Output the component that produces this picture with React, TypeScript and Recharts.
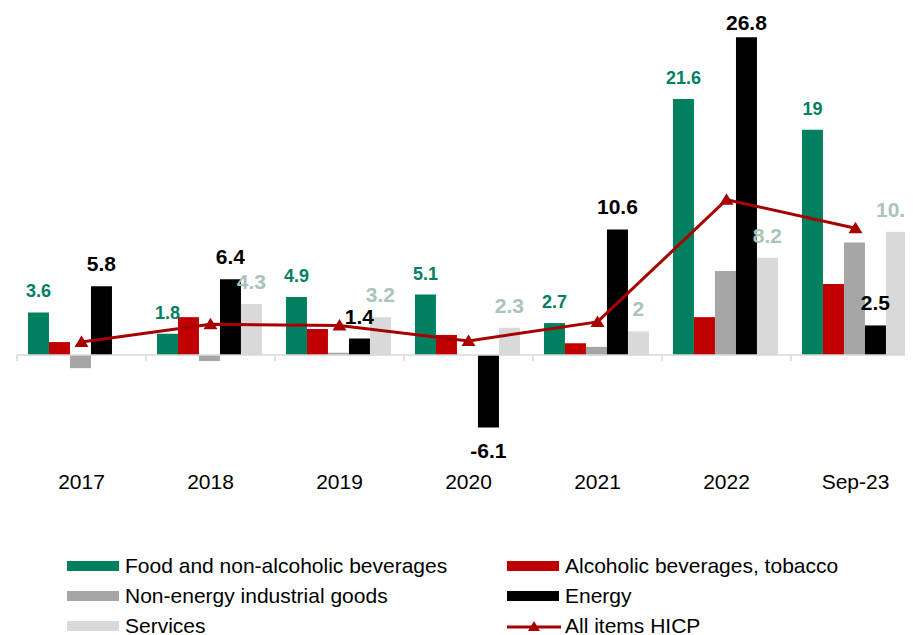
import { Bar, ComposedChart, LabelList, Line, ReferenceLine, XAxis, YAxis } from 'recharts';

const categories = ['2017', '2018', '2019', '2020', '2021', '2022', 'Sep-23'];
const food = [3.6, 1.8, 4.9, 5.1, 2.7, 21.6, 19];
const alcohol = [1.1, 3.2, 2.2, 1.7, 1.0, 3.2, 6.0];
const nonEnergy = [-1.1, -0.5, 0.2, 0, 0.7, 7.1, 9.5];
const energy = [5.8, 6.4, 1.4, -6.1, 10.6, 26.8, 2.5];
const services = [0, 4.3, 3.2, 2.3, 2, 8.2, 10.4];
const hicp = [1.1, 2.6, 2.5, 1.2, 2.8, 13.1, 10.7];

const seriesNames = {
  food: 'Food and non-alcoholic beverages',
  alcohol: 'Alcoholic beverages, tobacco',
  nonEnergy: 'Non-energy industrial goods',
  energy: 'Energy',
  services: 'Services',
  hicp: 'All items HICP',
};

const COLORS = {
  food: '#00805F',
  alcohol: '#C00000',
  nonEnergy: '#A6A6A6',
  energy: '#000000',
  services: '#D9D9D9',
  hicp: '#A80000',
};

const FONT = '"Liberation Sans", Arial, sans-serif';

const data = categories.map((cat, i) => ({
  cat,
  food: food[i],
  alcohol: alcohol[i],
  nonEnergy: nonEnergy[i],
  energy: energy[i],
  services: services[i],
  hicp: hicp[i],
}));

const makeLabel = (color: string, size: number) => (props: any) => {
  const { x, y, width, height, value } = props;
  const top = Math.min(y, y + height);
  const bottom = Math.max(y, y + height);
  const cx = x + width / 2;
  // keep labels inside the chart top edge (like the tallest bar's label)
  const ty = value < 0 ? bottom + 15 + size * 0.72 : Math.max(top - 15, 22);
  return (
    <text x={cx} y={ty} textAnchor="middle" fill={color} fontSize={size} fontWeight="bold" fontFamily={FONT}>
      {value}
    </text>
  );
};

const Triangle = (props: any) => {
  const { cx, cy } = props;
  if (cx == null || cy == null) return null;
  return <path d={`M${cx},${cy - 6.5} L${cx + 7},${cy + 5} L${cx - 7},${cy + 5} Z`} fill={COLORS.hicp} />;
};

// zero line with category boundary ticks
const ZeroAxis = (props: any) => {
  const { x1, y1, x2 } = props;
  const n = categories.length;
  const step = (x2 - x1) / n;
  return (
    <g>
      <line x1={x1} y1={y1} x2={x2} y2={y1} stroke="#D9D9D9" strokeWidth={1.5} />
      {Array.from({ length: n + 1 }).map((_, i) => (
        <line key={i} x1={x1 + i * step} y1={y1} x2={x1 + i * step} y2={y1 + 6} stroke="#D9D9D9" strokeWidth={1.5} />
      ))}
    </g>
  );
};

const legendItems = [
  { key: 'food', type: 'bar', col: 0, row: 0 },
  { key: 'alcohol', type: 'bar', col: 1, row: 0 },
  { key: 'nonEnergy', type: 'bar', col: 0, row: 1 },
  { key: 'energy', type: 'bar', col: 1, row: 1 },
  { key: 'services', type: 'bar', col: 0, row: 2 },
  { key: 'hicp', type: 'line', col: 1, row: 2 },
];

const App = () => {
  return (
    <div style={{ position: 'relative', width: 905, height: 627, overflow: 'hidden', fontFamily: FONT }}>
      <ComposedChart
        width={930}
        height={500}
        data={data}
        margin={{ top: 15, right: 18, left: 9, bottom: 18 }}
        barCategoryGap="8.5%"
        barGap={0}
      >
        <XAxis
          dataKey="cat"
          axisLine={false}
          tickLine={false}
          tickSize={0}
          tickMargin={24}
          height={40}
          interval={0}
          tick={{ fontSize: 21, fill: '#000', fontFamily: FONT }}
        />
        <YAxis hide domain={[-8, 28]} allowDataOverflow />
        <ReferenceLine y={0} shape={ZeroAxis} />
        <Bar dataKey="food" fill={COLORS.food} isAnimationActive={false}>
          <LabelList dataKey="food" content={makeLabel('#00805F', 18)} />
        </Bar>
        <Bar dataKey="alcohol" fill={COLORS.alcohol} isAnimationActive={false} />
        <Bar dataKey="nonEnergy" fill={COLORS.nonEnergy} isAnimationActive={false} />
        <Bar dataKey="energy" fill={COLORS.energy} isAnimationActive={false}>
          <LabelList dataKey="energy" content={makeLabel('#000000', 21)} />
        </Bar>
        <Bar dataKey="services" fill={COLORS.services} isAnimationActive={false}>
          <LabelList dataKey="services" content={makeLabel('#ABC3B9', 21)} />
        </Bar>
        <Line
          dataKey="hicp"
          stroke={COLORS.hicp}
          strokeWidth={3}
          dot={<Triangle />}
          activeDot={false}
          isAnimationActive={false}
        />
      </ComposedChart>

      {legendItems.map((item) => {
        const left = item.col === 0 ? 59 : 499;
        const top = 558 + item.row * 30;
        const color = (COLORS as any)[item.key];
        return (
          <div
            key={item.key}
            style={{ position: 'absolute', left, top: top - 15, height: 30, display: 'flex', alignItems: 'center', whiteSpace: 'nowrap' }}
          >
            {item.type === 'bar' ? (
              <div style={{ width: 52, height: 10, background: color }} />
            ) : (
              <svg width={54} height={14}>
                <line x1={0} y1={8} x2={54} y2={8} stroke={color} strokeWidth={3} />
                <path d="M27,2 L33,12 L21,12 Z" fill={color} />
              </svg>
            )}
            <span style={{ marginLeft: item.type === 'bar' ? 6 : 4, fontSize: 21, color: '#000' }}>
              {(seriesNames as any)[item.key]}
            </span>
          </div>
        );
      })}
    </div>
  );
};

export default App;
